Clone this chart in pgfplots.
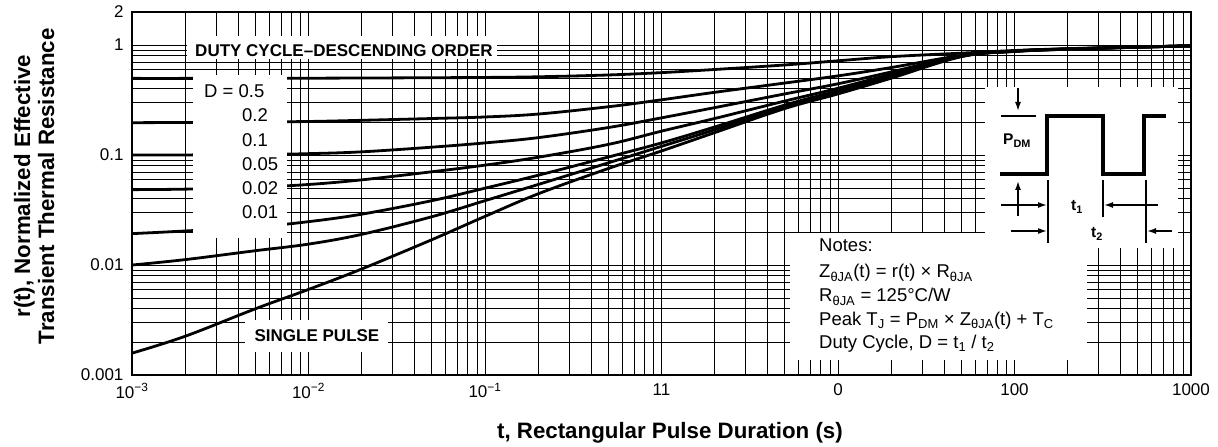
\documentclass[border=0pt]{standalone}
\usepackage{fontspec}
\setmainfont{Liberation Sans}
\usepackage{pgfplots}
\usepackage{pgfplotstable}
\pgfplotsset{compat=1.18}
\usetikzlibrary{arrows.meta}

\newcommand\tickfont{\fontsize{17}{20}\selectfont}
\newcommand\dfont{\fontsize{18.5}{21}\selectfont}
\newcommand\labfont{\fontsize{22.3}{24}\selectfont\bfseries}
\newcommand\notefont{\fontsize{18.5}{21}\selectfont}
\newcommand\tagfont{\fontsize{17}{19}\selectfont\bfseries}

% r(t)
\pgfplotstableread{
t     d05   d02   d01    d005   d002   d001   single
0.001 0.498 0.197 0.1000 0.0485 0.0193 0.0100 0.00158
0.002 0.498 0.198 0.1003 0.0490 0.0204 0.0112 0.00225
0.005 0.499 0.200 0.1010 0.0510 0.0222 0.0135 0.0040
0.01  0.500 0.202 0.1030 0.0540 0.0248 0.0155 0.0060
0.02  0.502 0.207 0.1070 0.0595 0.0290 0.0190 0.0092
0.05  0.505 0.215 0.1180 0.0705 0.0385 0.0275 0.0170
0.1   0.508 0.222 0.1290 0.0810 0.0500 0.0385 0.0277
0.2   0.515 0.236 0.1440 0.0955 0.0655 0.0540 0.0444
0.5   0.535 0.275 0.1780 0.125  0.096  0.085  0.0755
1     0.562 0.318 0.2180 0.165  0.129  0.120  0.109
2     0.600 0.372 0.2700 0.215  0.180  0.170  0.160
5     0.660 0.452 0.3600 0.310  0.285  0.275  0.265
10    0.720 0.525 0.4450 0.405  0.385  0.370  0.360
20    0.785 0.625 0.5700 0.545  0.525  0.510  0.500
50    0.845 0.805 0.8000 0.795  0.792  0.790  0.785
100   0.893 0.886 0.8830 0.881  0.879  0.877  0.875
200   0.928 0.925 0.9220 0.920  0.919  0.918  0.917
500   0.962 0.960 0.9590 0.958  0.957  0.957  0.956
1000  0.985 0.985 0.9850 0.985  0.985  0.985  0.985
}\zja

\begin{document}
\begin{tikzpicture}
\begin{axis}[
  scale only axis, width=1059pt, height=363pt,
  xmode=log, ymode=log,
  xmin=1e-3, xmax=1000, ymin=1e-3, ymax=2,
  xtick={1e-3,1e-2,1e-1,1,10,100,1000},
  xticklabels={10\textsuperscript{−3},10\textsuperscript{−2},10\textsuperscript{−1},11,0,100,1000},
  minor xtick={0.002,0.003,0.004,0.005,0.006,0.007,0.008,0.009,
               0.02,0.03,0.04,0.05,0.06,0.07,0.08,0.09,
               0.2,0.3,0.4,0.5,0.6,0.7,0.8,0.9,
               2,3,4,5,6,7,8,9,20,30,40,50,60,70,80,90,
               200,300,400,500,600,700,800,900},
  ytick={0.001,0.01,0.1,1,2},
  yticklabels={0.001,0.01,0.1,1,2},
  minor ytick={0.002,0.003,0.004,0.005,0.006,0.007,0.008,0.009,
               0.02,0.03,0.04,0.05,0.06,0.07,0.08,0.09,
               0.2,0.3,0.4,0.5,0.6,0.7,0.8,0.9},
  grid=both,
  major grid style={black, line width=0.9pt},
  minor grid style={black, line width=0.8pt},
  major tick length=0pt, minor tick length=0pt,
  axis line style={line width=1.3pt},
  ticklabel style={font=\tickfont},
  xticklabel style={yshift=-5pt},
  yticklabel style={xshift=-5pt},
  xlabel={t, Rectangular Pulse Duration (s)},
  ylabel={r(t), Normalized Effective\\Transient Thermal Resistance},
  xlabel style={font=\labfont, at={(axis description cs:0.508,-0.1736)}, anchor=base},
  ylabel style={font=\labfont, align=center, at={(axis description cs:-0.0925,0.52)}, anchor=center},
  zcurve/.style={black, line width=2.8pt, smooth, tension=0.6, no markers},
]
\addplot[zcurve] table[x=t,y=d05]{\zja};
\addplot[zcurve] table[x=t,y=d02]{\zja};
\addplot[zcurve] table[x=t,y=d01]{\zja};
\addplot[zcurve] table[x=t,y=d005]{\zja};
\addplot[zcurve] table[x=t,y=d002]{\zja};
\addplot[zcurve] table[x=t,y=d001]{\zja};
\addplot[zcurve] table[x=t,y=single]{\zja};
\end{axis}

% annotations, placed in picture pixels of the reference (origin top left)
\begin{scope}[shift={(-132pt,375pt)}, x=1pt, y=-1pt]
  \fill[white] (187,36) rectangle (497,59.5);
  \node[font=\tagfont, anchor=base] at (344,56.5) {DUTY CYCLE–DESCENDING ORDER};

  \fill[white] (193,75) rectangle (287,238);
  \node[font=\dfont, anchor=base west, inner sep=0pt] at (204,98) {D = 0.5};
  \node[font=\dfont, anchor=base west, inner sep=0pt] at (242,122) {0.2};
  \node[font=\dfont, anchor=base west, inner sep=0pt] at (242,146.5) {0.1};
  \node[font=\dfont, anchor=base west, inner sep=0pt] at (242,170.5) {0.05};
  \node[font=\dfont, anchor=base west, inner sep=0pt] at (242,195) {0.02};
  \node[font=\dfont, anchor=base west, inner sep=0pt] at (242,219) {0.01};

  \fill[white] (245,320) rectangle (388,352);
  \node[font=\tagfont, anchor=base] at (317,342) {SINGLE PULSE};

  \fill[white] (790,233) rectangle (1087,360);
  \fill[white] (985,87) rectangle (1178,248);

  \begin{scope}[font=\notefont]
    \node[anchor=base west, inner sep=0pt] at (819,251.5) {Notes:};
    \node[anchor=base west, inner sep=0pt] at (819,278) {Z\textsubscript{θJA}(t) = r(t) × R\textsubscript{θJA}};
    \node[anchor=base west, inner sep=0pt] at (819,302) {R\textsubscript{θJA} = 125°C/W};
    \node[anchor=base west, inner sep=0pt] at (819,325.5) {Peak T\textsubscript{J} = P\textsubscript{DM} × Z\textsubscript{θJA}(t) + T\textsubscript{C}};
    \node[anchor=base west, inner sep=0pt] at (819,348.5) {Duty Cycle, D = t\textsubscript{1} / t\textsubscript{2}};
  \end{scope}

  % pulse sketch
  \draw[line width=4.5pt, line join=miter, line cap=butt]
    (1000,174) -- (1047,174) -- (1047,116) -- (1103,116) -- (1103,174)
    -- (1144,174) -- (1144,116) -- (1166,116);
  \begin{scope}[line width=1.5pt, arrows={-{Latex[length=9pt,width=6pt]}}]
    \draw (1018,88) -- (1018,111);
    \draw (1018,216) -- (1018,181);
    \draw (1001,205) -- (1047,205);
    \draw (1158,205) -- (1104,205);
    \draw (1011,231) -- (1047,231);
    \draw (1172,231) -- (1147,231);
  \end{scope}
  \draw[line width=1.5pt] (1001,116) -- (1036,116);
  \draw[line width=1.5pt] (1048,180) -- (1048,243);
  \draw[line width=1.5pt] (1103,180) -- (1103,217);
  \draw[line width=1.5pt] (1146,180) -- (1146,243);
  \node[font=\fontsize{15.5}{17}\selectfont\bfseries, anchor=base west, inner sep=0pt] at (1003,145) {P\textsubscript{DM}};
  \node[font=\fontsize{15.5}{17}\selectfont\bfseries, anchor=base west, inner sep=0pt] at (1071,211) {t\textsubscript{1}};
  \node[font=\fontsize{15.5}{17}\selectfont\bfseries, anchor=base west, inner sep=0pt] at (1091,238) {t\textsubscript{2}};
\end{scope}

\pgfresetboundingbox
\path[use as bounding box] (-132pt,-72pt) rectangle (1086pt,375pt);
\end{tikzpicture}
\end{document}
